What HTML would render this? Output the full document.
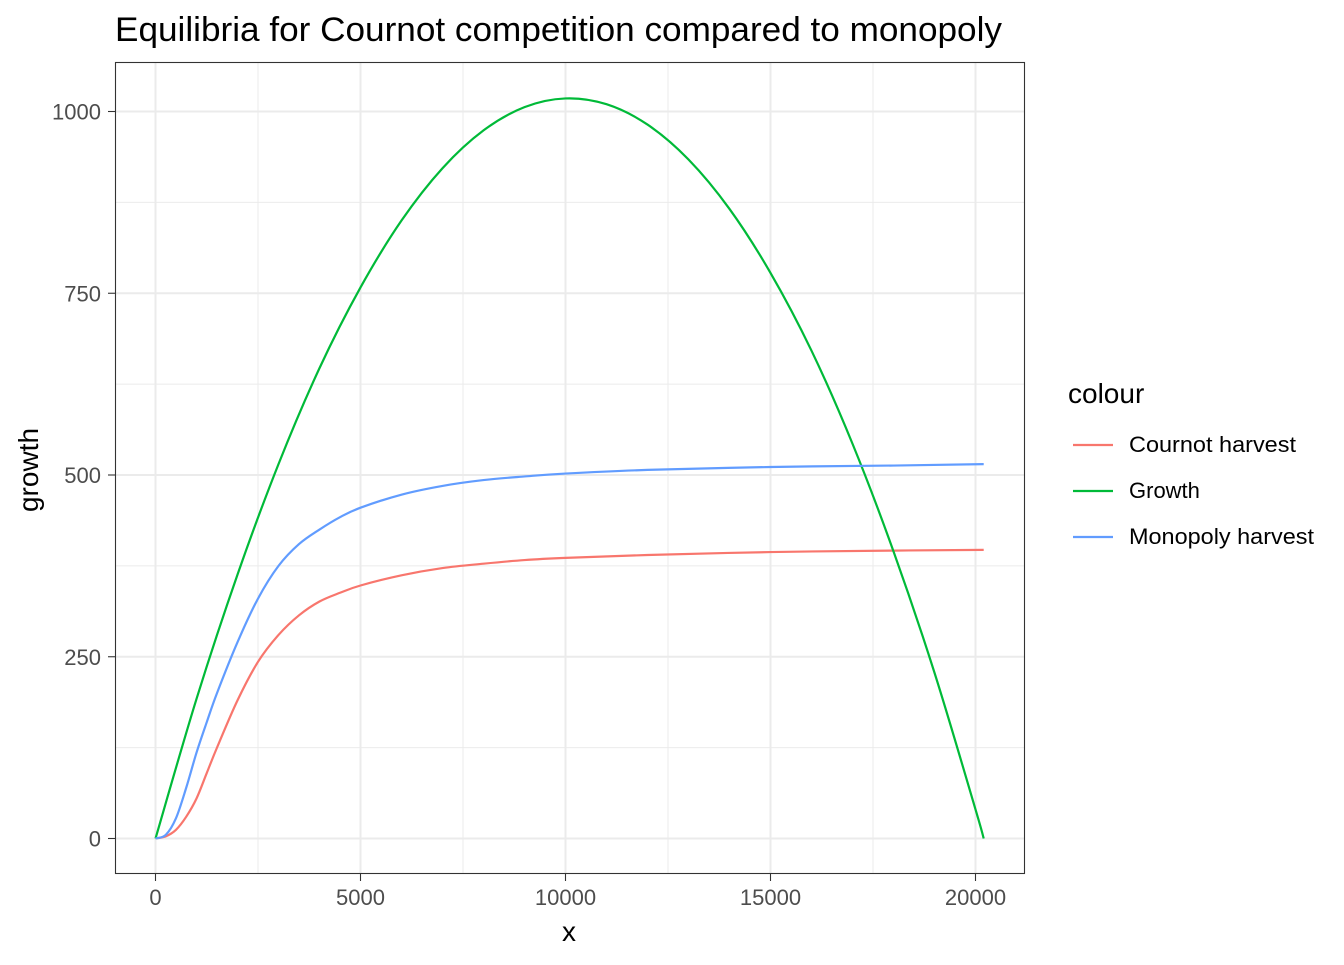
<!DOCTYPE html>
<html><head><meta charset="utf-8"><style>
body{margin:0;background:#fff;font-family:"Liberation Sans",Arial,sans-serif}
</style></head><body>
<svg id="chart" width="1344" height="960" xmlns="http://www.w3.org/2000/svg" font-family="Liberation Sans, Arial, sans-serif">
<text x="115" y="41" font-size="34" fill="#000" textLength="887" lengthAdjust="spacingAndGlyphs">Equilibria for Cournot competition compared to monopoly</text>
<rect x="115.5" y="62.5" width="909" height="811" fill="#fff"/>
<g id="grid"></g><g id="series"></g>
<rect x="115.5" y="62.5" width="909" height="811" fill="none" stroke="#333" stroke-width="1.1"/>
<g id="axes"></g>
<text x="569" y="941" font-size="28" text-anchor="middle">x</text>
<text transform="translate(38,470) rotate(-90)" font-size="28" text-anchor="middle">growth</text>
<g>
<text x="1068" y="403" font-size="28">colour</text>
<line x1="1073" x2="1113" y1="445" y2="445" stroke="#F8766D" stroke-width="2.2"/>
<text x="1129" y="452" font-size="22" textLength="167" lengthAdjust="spacingAndGlyphs">Cournot harvest</text>
<line x1="1073" x2="1113" y1="491" y2="491" stroke="#00BA38" stroke-width="2.2"/>
<text x="1129" y="498" font-size="22">Growth</text>
<line x1="1073" x2="1113" y1="537" y2="537" stroke="#619CFF" stroke-width="2.2"/>
<text x="1129" y="544" font-size="22" textLength="185" lengthAdjust="spacingAndGlyphs">Monopoly harvest</text>
</g>
</svg>
<script>
const growthX=[0,1000,2000,3000,4000,5000,6000,7000,8000,9000,10000,11000,12000,13000,14000,15000,16000,17000,18000,19000,20000,20200];
const growthY=[0,192,363,515,647,758,850,922,974,1006,1018,1010,982,934,866,778,671,543,395,228,40,0];
const harvX=[0,250,500,750,1000,1250,1500,2000,2500,3000,3500,4000,4500,5000,6000,7000,8000,9000,10000,12000,15000,18000,20200];
const monoY=[0,5,28,70,118,160,200,270,330,375,405,425,442,455,473,485,493,498,502,507,511,513,515];
const cournotY=[0,3,12,30,55,90,125,190,243,280,307,326,338,348,362,372,378,383,386,390,394,396,397];
const xTicks=[0,5000,10000,15000,20000];
const yTicks=[0,250,500,750,1000];
const sx=v=>155.5+v*0.041, sy=v=>838.5-v*0.727;
const NS="http://www.w3.org/2000/svg";
function mk(t,a,p){const e=document.createElementNS(NS,t);for(const k in a)e.setAttribute(k,a[k]);p.appendChild(e);return e;}
const grid=document.getElementById('grid'),axes=document.getElementById('axes'),ser=document.getElementById('series');
for(let i=0;i<xTicks.length;i++){const v=xTicks[i];
 if(i<xTicks.length-1){const m=mk('line',{x1:sx(v+2500),x2:sx(v+2500),y1:62,y2:874,stroke:'#EBEBEB','stroke-width':1},grid);}
 const g=mk('line',{x1:sx(v),x2:sx(v),y1:62,y2:874,stroke:'#EBEBEB','stroke-width':2},grid);
 mk('line',{x1:sx(v),x2:sx(v),y1:874,y2:881,stroke:'#333','stroke-width':1.1},axes);
 const t=mk('text',{x:sx(v),y:905,'font-size':22,fill:'#4D4D4D','text-anchor':'middle'},axes);t.textContent=v;}
for(let i=0;i<yTicks.length;i++){const v=yTicks[i];
 if(i<yTicks.length-1){const m=mk('line',{x1:115,x2:1024,y1:sy(v+125),y2:sy(v+125),stroke:'#EBEBEB','stroke-width':1},grid);}
 const g=mk('line',{x1:115,x2:1024,y1:sy(v),y2:sy(v),stroke:'#EBEBEB','stroke-width':2},grid);
 mk('line',{x1:108,x2:115,y1:sy(v),y2:sy(v),stroke:'#333','stroke-width':1.1},axes);
 const t=mk('text',{x:101,y:sy(v)+8,'font-size':22,fill:'#4D4D4D','text-anchor':'end'},axes);t.textContent=v;}
function path(xs,ys){const P=xs.map((x,i)=>[sx(x),sy(ys[i])]);let d='M'+P[0][0]+','+P[0][1];
 for(let i=0;i<P.length-1;i++){const p0=P[Math.max(0,i-1)],p1=P[i],p2=P[i+1],p3=P[Math.min(P.length-1,i+2)];
 const c1=[p1[0]+(p2[0]-p0[0])/6,p1[1]+(p2[1]-p0[1])/6],c2=[p2[0]-(p3[0]-p1[0])/6,p2[1]-(p3[1]-p1[1])/6];
 d+=' C'+c1+' '+c2+' '+p2;}return d;}
const s=[['cournot-harvest-line',harvX,cournotY,'#F8766D'],['growth-line',growthX,growthY,'#00BA38'],['monopoly-harvest-line',harvX,monoY,'#619CFF']];
for(const [n,xs,ys,c] of s){const e=mk('path',{d:path(xs,ys),fill:'none',stroke:c,'stroke-width':2.2},ser);
 
 }
</script>
</body></html>
